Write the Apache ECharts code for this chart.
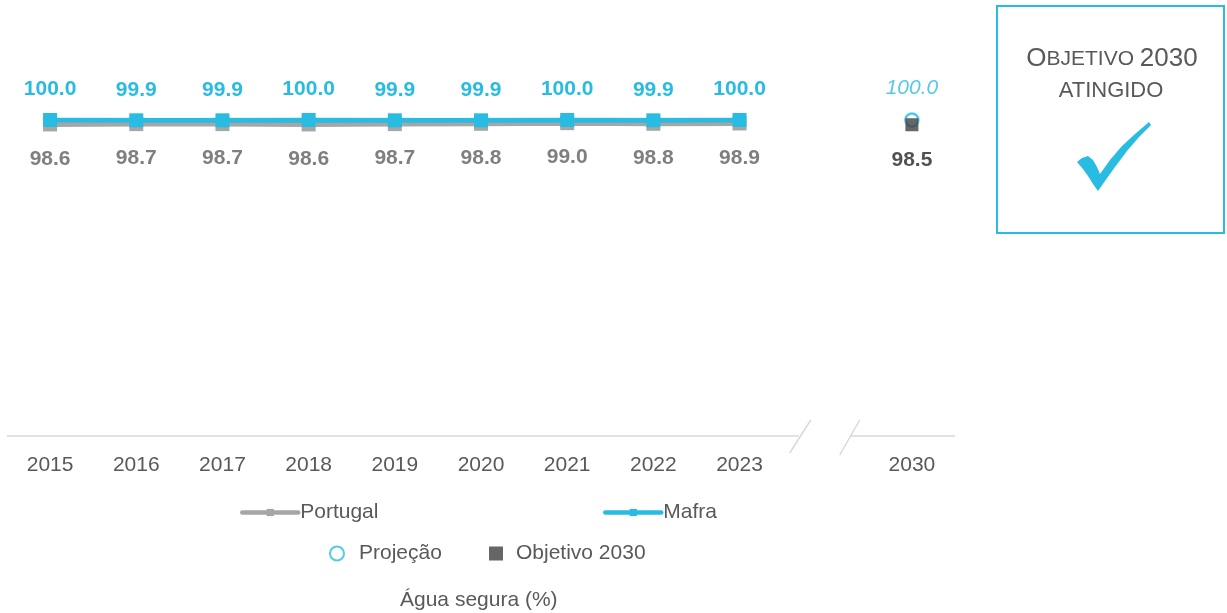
<!DOCTYPE html>
<html>
<head>
<meta charset="utf-8">
<script src="https://cdn.jsdelivr.net/npm/echarts@6/dist/echarts.min.js"></script>
<style>html,body{margin:0;padding:0;background:#fff}#c{width:1227px;height:613px}</style>
</head>
<body>
<div id="c"></div>
<script>
var years = ['2015','2016','2017','2018','2019','2020','2021','2022','2023','','2030'];
var portugal = [98.6,98.7,98.7,98.6,98.7,98.8,99.0,98.8,98.9,null,null];
var mafra = [100.0,99.9,99.9,100.0,99.9,99.9,100.0,99.9,100.0,null,null];
var projecao = [null,null,null,null,null,null,null,null,null,null,100.0];
var objetivo = [null,null,null,null,null,null,null,null,null,null,98.5];

var FONT = 'Arial, "Liberation Sans", sans-serif';
var BLUE = '#29BCE3', GRAY = '#A6A6A6', TXT = '#595959';
var chart = echarts.init(document.getElementById('c'));
function fmt(p){ return p.value == null ? '' : Number(p.value).toFixed(1); }
var legText = {color: TXT, fontSize: 21, fontFamily: FONT};
var option = {
  animation: false,
  grid: {left: 7, right: 272, top: 120, bottom: 177},
  xAxis: {
    type: 'category', data: years, boundaryGap: true,
    axisLine: {show: false}, axisTick: {show: false},
    axisLabel: {color: TXT, fontSize: 21, fontFamily: FONT, margin: 19}
  },
  yAxis: {type: 'value', min: 0, max: 100, show: false},
  legend: [
    {data: ['Portugal'], left: 235, top: 497, itemWidth: 56, itemHeight: 9, itemStyle: {color: GRAY}, lineStyle: {width: 4.5, color: GRAY, cap: 'round'}, textStyle: Object.assign({padding: [0,0,0,-3]}, legText)},
    {data: ['Mafra'], left: 598, top: 497, itemWidth: 56, itemHeight: 9, itemStyle: {color: BLUE}, lineStyle: {width: 4.5, color: BLUE, cap: 'round'}, textStyle: Object.assign({padding: [0,0,0,-3]}, legText)},
    {data: ['Projeção'], left: 324, top: 538, itemWidth: 14, itemHeight: 14, textStyle: Object.assign({padding: [0,0,0,10]}, legText)},
    {data: ['Objetivo 2030'], left: 484, top: 538, itemWidth: 14, itemHeight: 14, textStyle: Object.assign({padding: [0,0,0,8]}, legText)}
  ],
  title: {text: 'Água segura (%)', left: 395, top: 585, textStyle: {color: TXT, fontSize: 21, fontWeight: 'normal', fontFamily: FONT}},
  series: [
    {name: 'Portugal', type: 'line', data: portugal, z: 2,
     symbol: 'rect', symbolSize: 14, itemStyle: {color: GRAY}, lineStyle: {color: GRAY, width: 5},
     label: {show: true, position: 'bottom', distance: 17, color: '#7F7F7F', fontWeight: 'bold', fontSize: 21, fontFamily: FONT, formatter: fmt}},
    {name: 'Mafra', type: 'line', data: mafra, z: 3,
     symbol: 'rect', symbolSize: 14, itemStyle: {color: BLUE}, lineStyle: {color: BLUE, width: 5},
     label: {show: true, position: 'top', distance: 13, color: BLUE, fontWeight: 'bold', fontSize: 21, fontFamily: FONT, formatter: fmt}},
    {name: 'Projeção', type: 'scatter', data: projecao, z: 3,
     symbol: 'circle', symbolSize: 13, itemStyle: {color: '#fff', borderColor: BLUE, borderWidth: 2.5},
     label: {show: true, position: 'top', distance: 14, color: BLUE, fontStyle: 'italic', fontSize: 21, fontFamily: FONT, formatter: fmt}},
    {name: 'Objetivo 2030', type: 'scatter', data: objetivo, z: 4,
     symbol: 'rect', symbolSize: 13, itemStyle: {color: '#404040'},
     label: {show: true, position: 'bottom', distance: 18, color: '#262626', fontWeight: 'bold', fontSize: 21, fontFamily: FONT, formatter: fmt}}
  ]
};
chart.setOption(option);

var x0 = chart.convertToPixel({xAxisIndex: 0}, 0);
var x1 = chart.convertToPixel({xAxisIndex: 0}, 1);
var step = x1 - x0;
var xg = chart.convertToPixel({xAxisIndex: 0}, 9);
var xl = chart.convertToPixel({xAxisIndex: 0}, 10);
var yb = chart.convertToPixel({yAxisIndex: 0}, 0);
var lineStyle = {stroke: '#D9D9D9', lineWidth: 1.5};
var g = [
  {type: 'line', shape: {x1: x0 - step/2, y1: yb, x2: xg - 27, y2: yb}, style: lineStyle, silent: true},
  {type: 'line', shape: {x1: xg + 25, y1: yb, x2: xl + step/2, y2: yb}, style: lineStyle, silent: true},
  {type: 'line', shape: {x1: xg - 36, y1: yb + 17, x2: xg - 15, y2: yb - 16}, style: lineStyle, silent: true},
  {type: 'line', shape: {x1: xg + 14, y1: yb + 19, x2: xg + 34, y2: yb - 16}, style: lineStyle, silent: true},
  {type: 'rect', shape: {x: 997, y: 6, width: 227, height: 227}, style: {fill: '#fff', stroke: BLUE, lineWidth: 2}, silent: true},
  {type: 'text', x: 1112, y: 59, style: {
    text: '{a|O}{b|BJETIVO }{a|2030}', align: 'center', verticalAlign: 'middle',
    rich: {a: {fontSize: 26, fontFamily: FONT, fill: TXT}, b: {fontSize: 21, fontFamily: FONT, fill: TXT}}
  }, silent: true},
  {type: 'text', x: 1111, y: 91, style: {
    text: 'ATINGIDO', align: 'center', verticalAlign: 'middle', fontSize: 22, fontFamily: FONT, fill: TXT
  }, silent: true},
  {type: 'polygon', shape: {points: [
    [1077,162],[1082,158],[1088,156],[1093,160],[1097,167],[1100,174],
    [1110,160],[1122,146],[1135,134],[1149,122],[1151,125],
    [1139,137],[1127,151],[1115,167],[1105,181],[1098,191],
    [1093,184],[1088,176],[1083,169]
  ]}, style: {fill: BLUE}, silent: true}
];
chart.setOption({graphic: g});
</script>
</body>
</html>
